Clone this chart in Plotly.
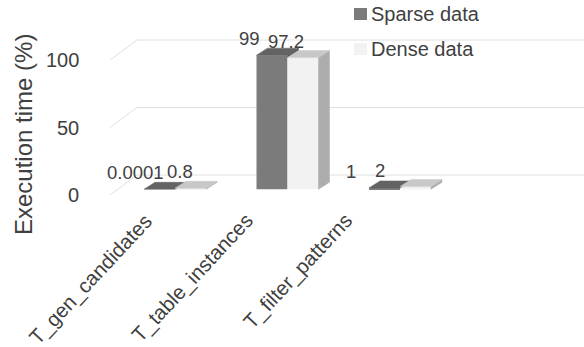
import plotly.graph_objects as go

# ---- data -------------------------------------------------------------
categories = ["T_gen_candidates", "T_table_instances", "T_filter_patterns"]
sparse = [0.0001, 99, 1]
dense = [0.8, 97.2, 2]
sparse_text = ["0.0001", "99", "1"]
dense_text = ["0.8", "97.2", "2"]
y_ticks = [0, 50, 100]
series_names = ["Sparse data", "Dense data"]

# ---- styling / geometry (pixels) -------------------------------------
W, H = 584, 347
FONT = "Arial, Liberation Sans, sans-serif"
TXT = "#404040"
GRID = "#e0e0e0"

X0, SX = 175.0, 112.5        # first group centre, pixels per category
Y0, SY = 189.3, 1.355        # bar base, pixels per percent
BAR_PX = 31.0                # bar front width
DEPTH_PX = (11.0, -7.0)      # bar depth offset
WALL_X, WALL_Y = 110.0, 195.0   # front-left floor corner
WALL_DX, WALL_DY = 27.0, -20.0  # floor depth offset
WALL_SY = 1.35
LABEL_STEP = 100.0           # spacing of category labels along the front edge

COLORS = {
    "sparse": {"front": "#7b7b7b", "top": "#636363", "side": "#585858"},
    "dense": {"front": "#f2f2f2", "top": "#c8c8c8", "side": "#adadad"},
}
LABEL_DX = {"sparse": [-24, -23, -34], "dense": [-11, -17, -36]}


def ux(px):
    return (px - X0) / SX


def uy(py):
    return (Y0 - py) / SY


def px(x):
    return x / W


def py(y):
    return 1 - y / H


bw = BAR_PX / SX
ddx = DEPTH_PX[0] / SX
ddy = -DEPTH_PX[1] / SY

fig = go.Figure()

# front faces
for key, vals, off in (("sparse", sparse, -bw), ("dense", dense, 0.0)):
    fig.add_trace(go.Bar(
        x=list(range(len(categories))), y=vals, width=bw, offset=off,
        marker=dict(color=COLORS[key]["front"], line=dict(width=0)),
        showlegend=False, hoverinfo="skip",
    ))


def poly(pts, color):
    xs = [p[0] for p in pts] + [pts[0][0]]
    ys = [p[1] for p in pts] + [pts[0][1]]
    fig.add_trace(go.Scatter(
        x=xs, y=ys, mode="lines", fill="toself", fillcolor=color,
        line=dict(width=0.5, color=color), showlegend=False, hoverinfo="skip",
    ))


for i in range(len(categories)):
    vs, vd = sparse[i], dense[i]
    # sparse bar: side (only the part above the neighbouring bar) and top
    xl, xr = i - bw, i
    if vs > vd:
        poly([(xr, vd), (xr, vs), (xr + ddx, vs + ddy), (xr + ddx, vd + ddy)],
             COLORS["sparse"]["side"])
    poly([(xl, vs), (xr, vs), (xr + ddx, vs + ddy), (xl + ddx, vs + ddy)],
         COLORS["sparse"]["top"])
    # dense bar: side and top
    xl, xr = i, i + bw
    poly([(xr, 0), (xr, vd), (xr + ddx, vd + ddy), (xr + ddx, ddy)],
         COLORS["dense"]["side"])
    poly([(xl, vd), (xr, vd), (xr + ddx, vd + ddy), (xl + ddx, vd + ddy)],
         COLORS["dense"]["top"])

shapes = []
annotations = []

# gridlines on the side and back walls, plus value axis labels
for v in y_ticks:
    fy = WALL_Y - WALL_SY * v
    by = fy + WALL_DY
    shapes.append(dict(type="line", xref="paper", yref="paper", layer="below",
                       x0=px(WALL_X), y0=py(fy), x1=px(WALL_X + WALL_DX), y1=py(by),
                       line=dict(color=GRID, width=1)))
    shapes.append(dict(type="line", xref="paper", yref="paper", layer="below",
                       x0=px(WALL_X + WALL_DX), y0=py(by), x1=1, y1=py(by),
                       line=dict(color=GRID, width=1)))
    annotations.append(dict(text=str(v), xref="paper", yref="paper",
                            x=px(81), y=py(fy), xanchor="right", yanchor="middle",
                            showarrow=False, font=dict(size=20, color=TXT, family=FONT)))

# value axis title
annotations.append(dict(text="Execution time (%)", xref="paper", yref="paper",
                        x=px(24), y=py(135), textangle=-90,
                        xanchor="center", yanchor="middle", showarrow=False,
                        font=dict(size=24, color=TXT, family=FONT)))

# category labels along the front floor edge
for i, c in enumerate(categories):
    ex = WALL_X + 50 + LABEL_STEP * i
    annotations.append(dict(text=c, xref="paper", yref="paper",
                            x=px(ex), y=py(206), textangle=-47,
                            xanchor="right", yanchor="top", showarrow=False,
                            font=dict(size=20.5, color=TXT, family=FONT)))

# data labels
for key, vals, texts, off in (("sparse", sparse, sparse_text, -bw / 2),
                               ("dense", dense, dense_text, bw / 2)):
    for i, (v, t) in enumerate(zip(vals, texts)):
        annotations.append(dict(text=t, x=i + off, y=v, xref="x", yref="y",
                                xshift=LABEL_DX[key][i], yshift=4,
                                xanchor="center", yanchor="bottom", showarrow=False,
                                font=dict(size=18.5, color=TXT, family=FONT)))

# legend
for j, (name, key) in enumerate(zip(series_names, ("sparse", "dense"))):
    top = 8 + 35 * j
    shapes.append(dict(type="rect", xref="paper", yref="paper",
                       x0=px(354), x1=px(367), y0=py(top), y1=py(top + 12),
                       fillcolor=COLORS[key]["front"], line=dict(width=0)))
    annotations.append(dict(text=name, xref="paper", yref="paper",
                            x=px(369), y=py(top + 6), xanchor="left", yanchor="middle",
                            showarrow=False, font=dict(size=20, color=TXT, family=FONT)))

fig.update_layout(
    width=W, height=H, margin=dict(l=0, r=0, t=0, b=0),
    paper_bgcolor="white", plot_bgcolor="white",
    barmode="overlay", showlegend=False,
    xaxis=dict(range=[ux(0), ux(W)], visible=False, fixedrange=True),
    yaxis=dict(range=[uy(H), uy(0)], visible=False, fixedrange=True),
    shapes=shapes, annotations=annotations,
)

fig.write_html("out.html")
